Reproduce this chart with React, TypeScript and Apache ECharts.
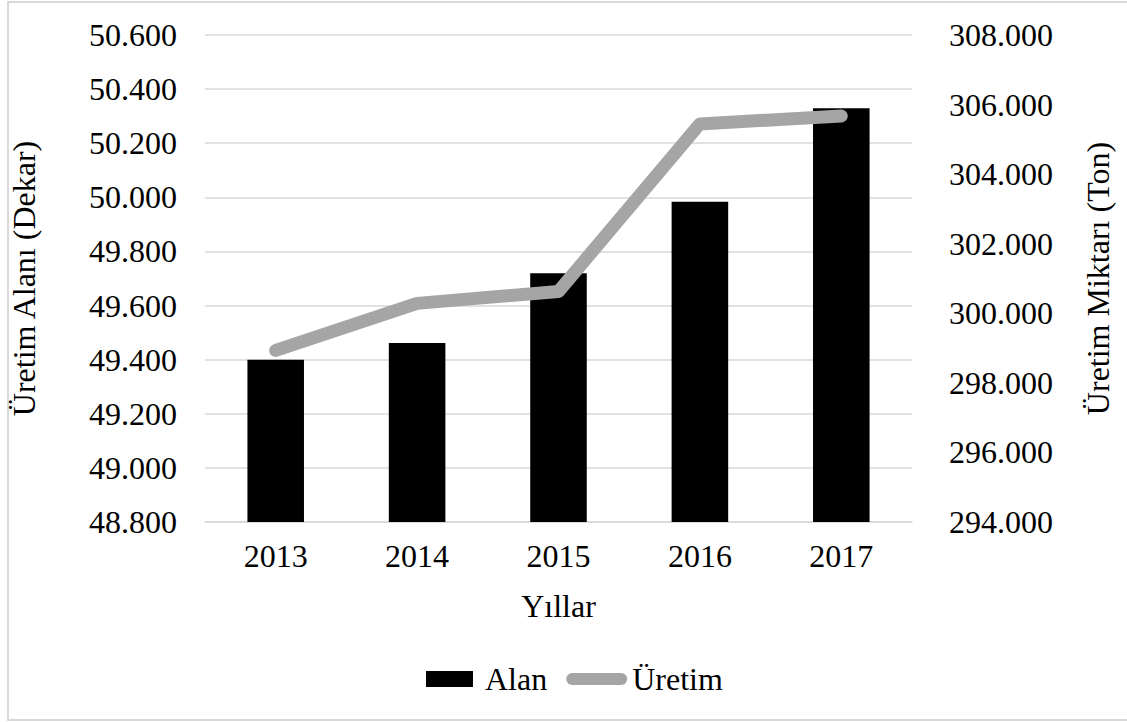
import React, { useEffect, useRef } from "react";
import * as echarts from "echarts";

const years = ["2013", "2014", "2015", "2016", "2017"];
const alan = [49400, 49462, 49719, 49984, 50329];
const uretim = [298933, 300285, 300628, 305444, 305672];

const FONT = "Liberation Serif";
const FS = 32;
const RECT = "path://M0,0 L47,0 L47,16 L0,16 Z";
const PILL = "path://M6,0 L55,0 A6,6 0 0 1 55,12 L6,12 A6,6 0 0 1 6,0 Z";

export default function App() {
  const ref = useRef<HTMLDivElement>(null);
  useEffect(() => {
    const chart = echarts.init(ref.current!, null, { renderer: "svg" });
    const fmt = (v: number) => (v / 1000).toFixed(3);
    chart.setOption({
      animation: false,
      backgroundColor: "#ffffff",
      textStyle: { fontFamily: FONT, color: "#000" },
      graphic: [
        {
          type: "rect",
          shape: { x: 8, y: 2, width: 1125, height: 718 },
          style: { fill: "none", stroke: "#d9d9d9", lineWidth: 2 },
          silent: true,
        },
      ],
      grid: { left: 203, right: 215, top: 35, bottom: 200 },
      legend: {
        left: 421,
        top: 658,
        itemWidth: 61,
        itemHeight: 16,
        itemGap: 19,
        symbolKeepAspect: true,
        textStyle: { fontFamily: FONT, fontSize: FS, color: "#000" },
        data: [
          { name: "Alan", icon: RECT, itemStyle: { color: "#000" } },
          { name: "Üretim", icon: PILL, itemStyle: { color: "#a5a5a5" } },
        ],
      },
      xAxis: {
        type: "category",
        data: years,
        axisLine: { show: true, lineStyle: { color: "#d9d9d9", width: 1.5 } },
        axisTick: { show: false },
        axisLabel: { fontFamily: FONT, fontSize: FS, color: "#000", margin: 18 },
        name: "Yıllar",
        nameLocation: "middle",
        nameGap: 68,
        nameTextStyle: { fontFamily: FONT, fontSize: FS, color: "#000" },
      },
      yAxis: [
        {
          type: "value",
          min: 48800,
          max: 50600,
          interval: 200,
          axisLine: { show: false },
          axisTick: { show: false },
          splitLine: { lineStyle: { color: "#d9d9d9", width: 1.5 } },
          axisLabel: { fontFamily: FONT, fontSize: FS, color: "#000", margin: 28, formatter: fmt },
          name: "Üretim Alanı (Dekar)",
          nameLocation: "middle",
          nameGap: 165,
          nameRotate: 90,
          nameTextStyle: { fontFamily: FONT, fontSize: FS, color: "#000" },
        },
        {
          type: "value",
          min: 294000,
          max: 308000,
          interval: 2000,
          position: "right",
          axisLine: { show: false },
          axisTick: { show: false },
          splitLine: { show: false },
          axisLabel: { fontFamily: FONT, fontSize: FS, color: "#000", margin: 37, formatter: fmt },
          name: "Üretim Miktarı (Ton)",
          nameLocation: "middle",
          nameGap: 170,
          nameRotate: 90,
          nameTextStyle: { fontFamily: FONT, fontSize: FS, color: "#000" },
        },
      ],
      series: [
        {
          name: "Alan",
          type: "bar",
          data: alan,
          barWidth: "40%",
          itemStyle: { color: "#000" },
          yAxisIndex: 0,
        },
        {
          name: "Üretim",
          type: "line",
          data: uretim,
          yAxisIndex: 1,
          symbol: "none",
          showSymbol: false,
          itemStyle: { color: "#a5a5a5" },
          lineStyle: { color: "#a5a5a5", width: 13, cap: "round", join: "round" },
        },
      ],
    });
    return () => chart.dispose();
  }, []);
  return (
    <div
      ref={ref}
      style={{ position: "absolute", left: 0, top: 0, width: 1127, height: 722 }}
    />
  );
}
